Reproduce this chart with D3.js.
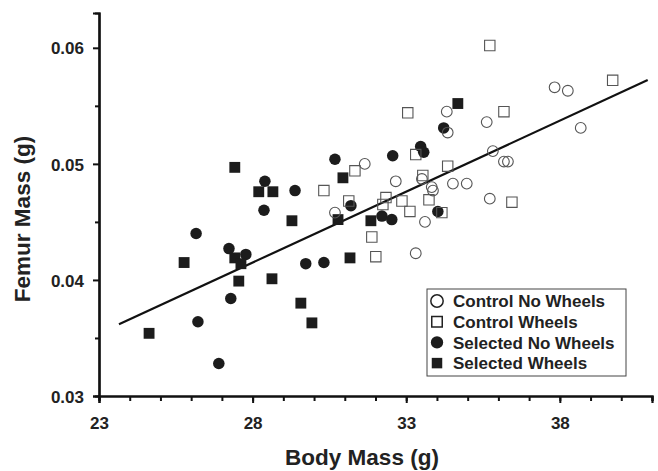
<!DOCTYPE html>
<html>
<head>
<meta charset="utf-8">
<script src="https://cdn.jsdelivr.net/npm/d3@7"></script>
<style>
  body { margin: 0; background: #fff; }
  text { font-family: "Liberation Sans", Arial, Helvetica, sans-serif; font-weight: bold; fill: #222; }
</style>
</head>
<body>
<div id="plot"></div>
<script>
const margin = {top: 13, right: 6, bottom: 75, left: 99},
    width = 658 - margin.left - margin.right,
    height = 471 - margin.top - margin.bottom;

// [body mass (g), femur mass (g)]
const controlNoWheels = [
    [31.65, 0.0500], [32.66, 0.0485], [30.68, 0.0458], [33.31, 0.0423], [34.32, 0.0545],
    [35.62, 0.0536], [34.35, 0.0527], [35.82, 0.0511], [36.18, 0.0502], [36.31, 0.0502],
    [37.83, 0.0566], [38.26, 0.0563], [38.68, 0.0531], [33.51, 0.0487], [33.83, 0.0480],
    [33.87, 0.0477], [34.52, 0.0483], [34.97, 0.0483], [35.72, 0.0470], [33.61, 0.0450]
]
const controlWheels = [
    [33.05, 0.0544], [35.72, 0.0602], [39.72, 0.0572], [36.18, 0.0545], [31.33, 0.0494],
    [30.32, 0.0477], [32.34, 0.0471], [32.24, 0.0465], [32.86, 0.0468], [33.12, 0.0459],
    [31.88, 0.0437], [32.01, 0.0420], [33.31, 0.0508], [34.35, 0.0498], [33.54, 0.0490],
    [33.74, 0.0469], [36.44, 0.0467], [34.16, 0.0458], [31.13, 0.0468]
]
const selectedNoWheels = [
    [26.16, 0.0440], [26.22, 0.0364], [26.90, 0.0328], [27.29, 0.0384], [27.23, 0.0427],
    [27.78, 0.0422], [28.40, 0.0485], [28.37, 0.0460], [29.38, 0.0477], [29.73, 0.0414],
    [30.32, 0.0415], [30.68, 0.0504], [32.56, 0.0507], [31.20, 0.0464], [32.21, 0.0455],
    [32.53, 0.0452], [33.47, 0.0515], [33.57, 0.0510], [34.22, 0.0531], [34.03, 0.0459]
]
const selectedWheels = [
    [24.63, 0.0354], [25.77, 0.0415], [27.42, 0.0497], [28.20, 0.0476], [28.66, 0.0476],
    [27.42, 0.0419], [27.62, 0.0414], [27.55, 0.0399], [28.63, 0.0401], [29.28, 0.0451],
    [29.57, 0.0380], [29.93, 0.0363], [30.94, 0.0488], [30.78, 0.0452], [31.17, 0.0419],
    [31.85, 0.0451], [34.68, 0.0552]
]

// regression line ends
const fitX = [23.65, 40.86]
const fitY = [0.03618, 0.05722]

const xMajor = [23, 28, 33, 38]
const xMinor = d3.range(23, 42, 1)
const yMajor = [0.03, 0.04, 0.05, 0.06]
const yMinor = [0.035, 0.045, 0.055]

const groups = [
    {name: "Control No Wheels", data: controlNoWheels, type: d3.symbolCircle, filled: false},
    {name: "Control Wheels", data: controlWheels, type: d3.symbolSquare, filled: false},
    {name: "Selected No Wheels", data: selectedNoWheels, type: d3.symbolCircle, filled: true},
    {name: "Selected Wheels", data: selectedWheels, type: d3.symbolSquare, filled: true}
]

const svg = d3.select("#plot")
    .append("svg")
    .attr("width", width + margin.left + margin.right)
    .attr("height", height + margin.top + margin.bottom)
    .append("g")
    .attr("transform", `translate(${margin.left}, ${margin.top})`);

const x = d3.scaleLinear().domain([23, 41]).range([0, width]);
const y = d3.scaleLinear().domain([0.03, 0.063]).range([height, 0]);

function symSize(g) {
    if (g.type === d3.symbolCircle) return g.filled ? 104 : 90;
    return g.filled ? 118 : 108;
}

// Add X axis
const xAxis = svg.append("g")
    .attr("transform", `translate(0, ${height})`)
    .call(d3.axisBottom(x).tickValues(xMinor).tickSize(5).tickFormat(""));
xAxis.append("g")
    .call(d3.axisBottom(x).tickValues(xMajor).tickSize(7).tickPadding(14).tickFormat(d3.format("d")));

// Add Y axis
const yAxis = svg.append("g")
    .call(d3.axisLeft(y).tickValues(yMinor).tickSize(4).tickFormat(""));
yAxis.append("g")
    .call(d3.axisLeft(y).tickValues(yMajor).tickSize(6).tickPadding(9).tickFormat(d3.format(".2f")));

svg.selectAll(".domain").attr("stroke", "#111").attr("stroke-width", 2.2);
svg.selectAll(".tick line").attr("stroke", "#111").attr("stroke-width", 2);
svg.selectAll(".tick text").style("font-size", "17px").style("font-family", "Liberation Sans, Arial, sans-serif")
    .style("font-weight", "bold").attr("fill", "#222");
yAxis.selectAll(".tick text").attr("dy", "0.36em");

// fit line
svg.append("line")
    .attr("x1", x(fitX[0]))
    .attr("y1", y(fitY[0]))
    .attr("x2", x(fitX[1]))
    .attr("y2", y(fitY[1]))
    .style("stroke", "#111")
    .style("stroke-width", 2.2);

// Add points: filled groups first, open outlines on top
const order = [groups[2], groups[3], groups[0], groups[1]];
order.forEach(function (g) {
    svg.append("g")
        .selectAll("path")
        .data(g.data)
        .enter()
        .append("path")
        .attr("transform", d => `translate(${x(d[0])}, ${y(d[1])})`)
        .attr("d", d3.symbol().type(g.type).size(symSize(g)))
        .style("fill", g.filled ? "#1c1c1c" : "none")
        .style("stroke", g.filled ? "none" : "#555")
        .style("stroke-width", 1.1);
});

// Legend
const lgX = 427 - margin.left, lgY = 289 - margin.top;
const legend = svg.append("g").attr("transform", `translate(${lgX}, ${lgY})`);
legend.append("rect")
    .attr("width", 199)
    .attr("height", 87)
    .style("fill", "#fff")
    .style("stroke", "#444")
    .style("stroke-width", 1);

groups.forEach(function (g, i) {
    const cy = 12 + i * 20.7;
    legend.append("path")
        .attr("transform", `translate(10, ${cy})`)
        .attr("d", d3.symbol().type(g.type).size(g.type === d3.symbolCircle ? 120 : 110))
        .style("fill", g.filled ? "#1c1c1c" : "none")
        .style("stroke", g.filled ? "none" : "#222")
        .style("stroke-width", 1.5);
    legend.append("text")
        .attr("x", 26)
        .attr("y", cy)
        .attr("dy", "0.36em")
        .style("font-size", "17px")
        .text(g.name);
});

// X axis label
svg.append("text")
    .attr("text-anchor", "middle")
    .attr("x", 362 - margin.left)
    .attr("y", 465 - margin.top)
    .style("font-size", "22.5px")
    .text("Body Mass (g)");

// Y axis label
svg.append("text")
    .attr("text-anchor", "middle")
    .attr("transform", "rotate(-90)")
    .attr("x", -(219 - margin.top))
    .attr("y", 30 - margin.left)
    .style("font-size", "22.5px")
    .text("Femur Mass (g)");
</script>
</body>
</html>
